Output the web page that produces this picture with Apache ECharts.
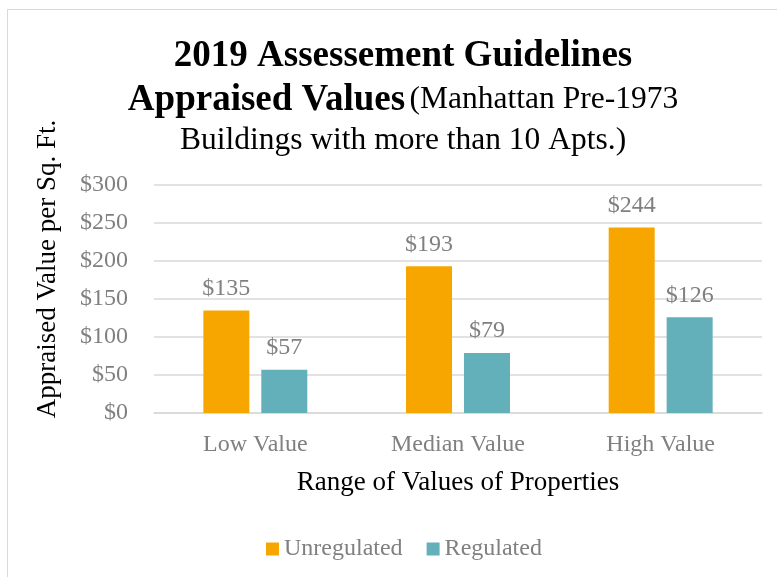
<!DOCTYPE html>
<html><head><meta charset="utf-8">
<script src="https://cdn.jsdelivr.net/npm/echarts@6/dist/echarts.min.js"></script>
<style>html,body{margin:0;padding:0;background:#fff}#c{width:777px;height:577px}</style>
</head><body><div id="c"></div>
<script>
const categories = ['Low Value', 'Median Value', 'High Value'];
const unregulated = [135, 193, 244];
const regulated = [57, 79, 126];
const seriesNames = ['Unregulated', 'Regulated'];
const yTicks = [0, 50, 100, 150, 200, 250, 300];

const F = 'Liberation Serif';
const chart = echarts.init(document.getElementById('c'));
chart.setOption({
  animation: false,
  backgroundColor: '#fff',
  textStyle: { fontFamily: F },
  graphic: [
    { type: 'rect', shape: { x: 7.5, y: 9.5, width: 800, height: 600 }, style: { fill: 'none', stroke: '#d9d9d9', lineWidth: 1 } },
    { type: 'text', x: 48, y: 269, rotation: Math.PI / 2,
      style: { text: 'Appraised Value per Sq. Ft.', fontFamily: F, fontSize: 27, fill: '#000', textAlign: 'center', textVerticalAlign: 'middle' } }
  ],
  title: {
    left: 398, top: 29, textAlign: 'center',
    text: '{b|2019 Assessement Guidelines}\n{b|Appraised Values} {n|(Manhattan Pre-1973}\n{n|Buildings with more than 10 Apts.)}',
    textStyle: {
      rich: {
        b: { fontFamily: F, fontWeight: 'bold', fontSize: 37, color: '#000', lineHeight: 44 },
        n: { fontFamily: F, fontWeight: 'normal', fontSize: 31.5, color: '#000', lineHeight: 38 }
      }
    }
  },
  legend: {
    bottom: 11, left: 261, itemWidth: 13, itemHeight: 13, itemGap: 24,
    icon: 'rect',
    textStyle: { fontFamily: F, fontSize: 24, color: '#808080' },
    data: seriesNames
  },
  grid: { left: 154, right: 15, top: 185, bottom: 164 },
  xAxis: {
    type: 'category', data: categories,
    axisLine: { lineStyle: { color: '#d9d9d9', width: 1.5 } },
    axisTick: { show: false },
    axisLabel: { fontFamily: F, fontSize: 24, color: '#808080', margin: 20 },
    name: 'Range of Values of Properties', nameLocation: 'middle', nameGap: 56,
    nameTextStyle: { fontFamily: F, fontSize: 27, color: '#000' }
  },
  yAxis: {
    type: 'value', min: 0, max: 300, interval: 50,
    axisLine: { show: false }, axisTick: { show: false },
    splitLine: { lineStyle: { color: '#d9d9d9', width: 1.5 } },
    axisLabel: { fontFamily: F, fontSize: 24, color: '#808080', margin: 26, formatter: v => '$' + v }
  },
  series: [
    { name: seriesNames[0], type: 'bar', data: unregulated, barWidth: 46, barGap: '26%',
      itemStyle: { color: '#F7A600' },
      label: { show: true, position: 'top', distance: 10, fontFamily: F, fontSize: 24, color: '#808080', formatter: p => '$' + p.value } },
    { name: seriesNames[1], type: 'bar', data: regulated, barWidth: 46,
      itemStyle: { color: '#63AFBA' },
      label: { show: true, position: 'top', distance: 10, fontFamily: F, fontSize: 24, color: '#808080', formatter: p => '$' + p.value } }
  ]
});
</script></body></html>
